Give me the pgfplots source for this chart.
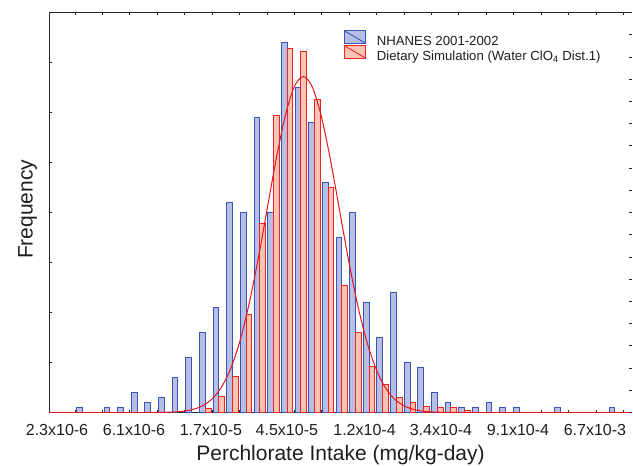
\documentclass[border=0pt]{standalone}
\usepackage{fontspec}
\setmainfont{Liberation Sans}
\usepackage{pgfplots}
\pgfplotsset{compat=1.18}
\definecolor{nhEdge}{RGB}{55,85,185}
\definecolor{nhFill}{RGB}{182,190,228}
\definecolor{simEdge}{RGB}{240,35,35}
\definecolor{simFill}{RGB}{250,196,180}
\definecolor{fitRed}{RGB}{232,20,28}
\definecolor{txt}{RGB}{30,30,30}
\pgfplotsset{
    patch legend/.style={legend image code/.code={
        \draw[##1] (0pt,-1.65pt) rectangle (21.7pt,11.05pt);
        \draw[##1] (0pt,11.05pt) -- (21.7pt,-1.65pt);}},
}

\begin{document}
\begin{tikzpicture}
\begin{axis}[
    name=main,
    width=582pt, height=400pt, scale only axis,
    xmin=-2.41, xmax=40.23, ymin=0, ymax=80,
    axis x line*=box, axis y line*=left,
    axis line style={-, black!85, line width=0.9pt},
    tick align=inside, major tick length=3pt,
    tick style={black!85, line width=0.8pt},
    xtick={-0.542,1.4668,...,39.7}, xticklabels={},
    ytick={0,10,...,80}, yticklabels={},
    extra x ticks={-1.86,3.78,9.42,14.98,20.67,26.27,31.91,37.55},
    extra x tick labels={2.3x10-6,6.1x10-6,1.7x10-5,4.5x10-5,1.2x10-4,3.4x10-4,9.1x10-4,6.7x10-3},
    extra x tick style={major tick length=0pt,
        tick label style={anchor=base, yshift=-23pt}},
    every tick label/.append style={font=\fontsize{16}{19}\selectfont, text=txt},
    xlabel={Perchlorate Intake (mg/kg-day)},
    xlabel style={at={(axis description cs:0.5,0)}, anchor=base, yshift=-48pt,
        font=\fontsize{21}{24}\selectfont, text=txt},
    ylabel={Frequency},
    ylabel style={at={(axis description cs:-0.0289,0.508)}, anchor=base,
        font=\fontsize{21}{24}\selectfont, text=txt},
    legend style={at={(axis description cs:0.5052,0.956)}, anchor=north west,
        draw=none, fill=none, inner sep=0pt, row sep=-2.5pt,
        font=\fontsize{13.2}{16}\selectfont, text=txt,
        nodes={inner sep=0.5pt},
        /tikz/every odd column/.append style={column sep=10pt}},
    legend cell align=left,
]
% NHANES 2001-2002 counts, bin index k
\addplot[ybar, bar width=0.42, bar shift=0pt, draw=nhEdge, fill=nhFill,
    line width=0.9pt, patch legend]
coordinates {
    (-0.21,1) (1.79,1) (2.79,1) (3.79,4) (4.79,2) (5.79,3) (6.79,7)
    (7.79,11) (8.79,16) (9.79,21) (10.79,42) (11.79,40) (12.79,59)
    (13.79,40) (14.79,74) (15.79,65) (16.79,58) (17.79,46) (18.79,35)
    (19.79,40) (20.79,22) (21.79,15) (22.79,24) (23.79,10) (24.79,9)
    (25.79,4) (26.79,2) (27.79,1) (28.79,1) (29.79,2) (30.79,1)
    (31.79,1) (34.79,1) (38.79,1)
};
\addlegendentry{NHANES 2001-2002}
% Dietary simulation
\addplot[ybar, bar width=0.42, bar shift=0pt, draw=simEdge, fill=simFill,
    line width=0.9pt, patch legend]
coordinates {
    (9.21,0.8) (10.21,3.3) (11.21,7.3) (12.21,19.7) (13.21,37.8)
    (14.21,59.4) (15.21,72.8) (16.21,72.3) (17.21,62.7) (18.21,45.1)
    (19.21,25.5) (20.21,16.1) (21.21,9.3) (22.21,5.7) (23.21,3)
    (24.21,2) (25.21,1.3) (26.21,1) (27.21,1) (28.21,0.5)
};
\addlegendentry{Dietary Simulation (Water ClO\textsubscript{4} Dist.1)}
% fitted curve
\addplot[fitRed, line width=1pt, smooth, forget plot] coordinates {
    (-2.41,0) (5.0,0) (5.63,0.02) (6.29,0.06) (6.95,0.15) (7.61,0.34)
    (8.27,0.75) (8.93,1.53) (9.59,2.95) (10.25,5.35) (10.91,9.09)
    (11.57,14.54) (12.22,21.82) (12.88,30.76) (13.54,40.76) (14.20,50.72)
    (14.86,59.30) (15.52,65.13) (16.18,67.2) (16.84,65.13) (17.50,59.30)
    (18.16,50.72) (18.82,40.76) (19.48,30.76) (20.14,21.82) (20.80,14.54)
    (21.46,9.09) (22.11,5.35) (22.77,2.95) (23.43,1.53) (24.09,0.75)
    (24.75,0.34) (25.41,0.15) (26.07,0.06) (26.73,0.02) (27.4,0) (40.23,0)
};
\end{axis}
% right-hand tick column, no spine
\begin{axis}[
    width=582pt, height=400pt, scale only axis,
    xmin=-2.41, xmax=40.23, ymin=0, ymax=18,
    hide x axis, axis y line*=right,
    y axis line style={draw=none},
    tick align=inside, major tick length=3pt,
    tick style={black!85, line width=0.8pt},
    ytick={0,1,...,18}, yticklabels={},
]
\end{axis}
\pgfresetboundingbox
\path[use as bounding box] ([shift={(-49.5pt,-52.5pt)}]main.south west)
    rectangle ([shift={(1.5pt,12.5pt)}]main.north east);
\end{tikzpicture}
\end{document}
